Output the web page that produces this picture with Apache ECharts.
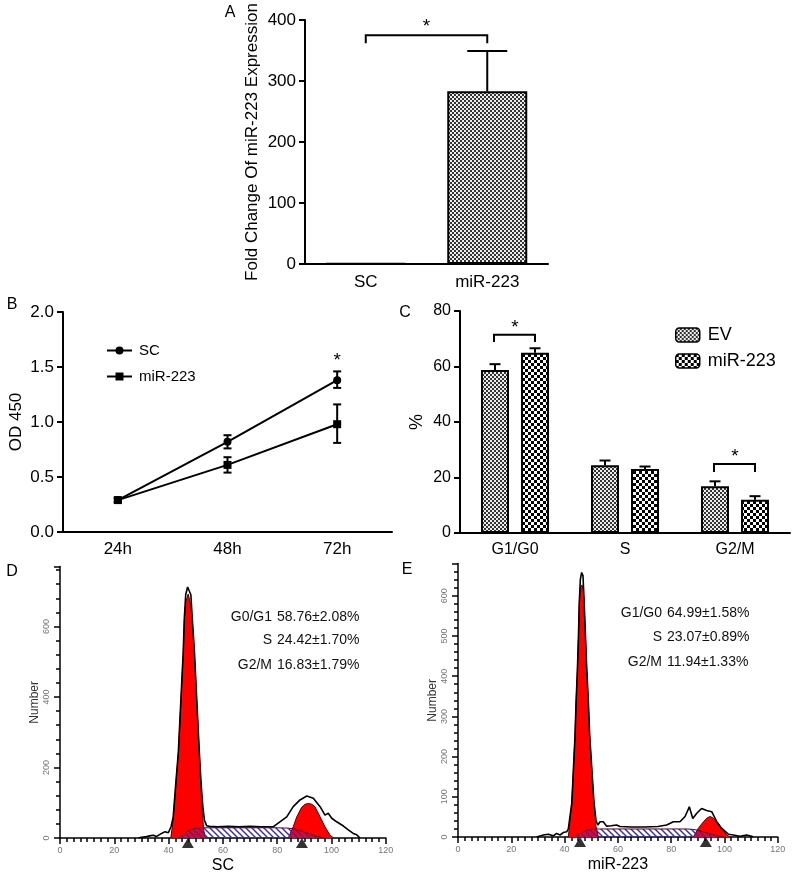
<!DOCTYPE html>
<html><head><meta charset="utf-8">
<script src="https://cdn.jsdelivr.net/npm/echarts@6/dist/echarts.min.js"></script>
<style>html,body{margin:0;padding:0;background:#fff}#c{width:800px;height:875px}</style>
</head><body><div id="c"></div>
<script>
// ---------- DATA ----------
// Panel A
const aCategories = ['SC', 'miR-223'];
const aValues = [1, 283];
const aErrors = [0, 66];
const aBracket = [0, 1, 375, 362, 389]; // fromCat, toCat, top, end, starY
// Panel B
const bCategories = ['24h', '48h', '72h'];
const bSC = [0.29, 0.82, 1.38];
const bSCLow = [0.27, 0.76, 1.31];
const bSCHigh = [0.31, 0.88, 1.46];
const bMiR = [0.29, 0.61, 0.98];
const bMiRLow = [0.27, 0.54, 0.81];
const bMiRHigh = [0.31, 0.68, 1.16];
const bStar = [2, 1.56];
// Panel C
const cCategories = ['G1/G0', 'S', 'G2/M'];
const cEV = [58.76, 24.42, 16.83];
const cEVErr = [2.08, 1.70, 1.79];
const cMiR = [64.99, 23.07, 11.94];
const cMiRErr = [1.58, 0.89, 1.33];
const cBrackets = [[0, 71.4, 68.8, 74], [2, 24.9, 22.0, 27.5]]; // cat, top, end, starY
// Panel D (SC) histogram, [DNA content, Number]
const rawD = [[28.9,0],[30,2],[31.9,4],[33,6],[34.4,8],[35.5,4],[36.2,2],[37.4,13],[38.7,18],[39.9,15],[40.9,32],[41.7,60],[42.6,150],[43.6,245],[44.2,340],[44.8,435],[45.4,530],[45.8,625],[46.3,690],[47.0,712],[47.5,710],[48.2,690],[48.7,625],[49.5,530],[50.1,435],[50.7,340],[51.3,245],[52.0,150],[52.6,90],[53.2,50],[54.0,35],[55,33],[58,32],[62,33],[66,32],[70,33],[74,32],[78.6,32],[81.0,46],[83.5,60],[85.9,89],[88.4,108],[90.9,119],[93.3,113],[95.8,89],[97.6,65],[98.8,70],[100.1,56],[101.9,46],[104.4,34],[106.2,23],[108.0,13],[109.3,9],[110.5,0]];
const g1D = [[40.8,0],[41.7,51],[42.6,146],[43.6,240],[44.2,335],[44.8,429],[45.4,524],[45.8,618],[46.3,668],[47.2,692],[48.0,668],[48.7,618],[49.5,524],[50.1,429],[50.7,335],[51.3,240],[51.9,146],[52.4,70],[53.0,20],[53.6,0]];
const g2D = [[84.1,0],[85.9,32],[87.2,60],[89.0,87],[90.3,96],[91.5,98],[92.7,96],[93.9,89],[95.8,60],[97.6,32],[99.4,9],[100.7,0]];
const sD = [[44,0],[45.5,10],[47,19],[48.5,25],[50,28],[52,29],[55,29],[60,29],[70,29],[80,29],[84,28],[86,26],[88,22],[90,17],[92,11],[94,6],[96,2],[97.5,0]];
const peaksD = [47.1, 89.1];
const textD = [['G0/G1', '58.76±2.08%'], ['S', '24.42±1.70%'], ['G2/M', '16.83±1.79%']];
// Panel E (miR-223) histogram
const rawE = [[29.5,0],[32.0,5],[33.9,7],[35.8,3],[37.0,9],[38.3,5],[39.5,11],[40.8,13],[41.4,20],[42.7,84],[43.3,167],[43.9,250],[44.3,333],[44.8,415],[45.2,498],[45.5,581],[45.9,640],[46.4,658],[46.9,650],[47.3,590],[47.8,505],[48.3,420],[48.9,338],[49.4,255],[50.2,170],[51.0,88],[51.8,40],[52.5,30],[53.3,38],[54.5,38],[55.8,27],[57.5,28],[59.5,30],[60.8,26],[65,25],[70,25],[75,26],[78.3,30],[80.8,38],[83.3,38],[85.2,51],[86.8,75],[88.1,46],[89.6,59],[91.4,71],[93.3,66],[95.2,63],[97.1,38],[98.9,22],[101.4,7],[103.3,5],[105.8,2],[108.3,5],[110.2,2],[110.8,0]];
const g1E = [[41.4,0],[42.7,84],[43.3,167],[43.9,250],[44.3,333],[44.8,415],[45.2,498],[45.5,581],[45.9,620],[46.5,627],[47.0,615],[47.3,581],[47.8,498],[48.3,415],[48.9,333],[49.4,250],[50.2,167],[51.0,84],[51.8,26],[52.7,0]];
const g2E = [[88.3,0],[90.2,22],[92.1,38],[93.4,47],[94.6,51],[95.8,47],[97.1,38],[98.9,22],[100.8,5],[102.1,0]];
const sE = [[44,0],[45.5,7],[47,13],[48.5,17],[50,19],[53,20],[60,20],[70,20],[80,20],[86,20],[88,19],[90,17],[92,13],[94,9],[96,5],[98,2],[100,0]];
const peaksE = [45.8, 93.0];
const textE = [['G1/G0', '64.99±1.58%'], ['S', '23.07±0.89%'], ['G2/M', '11.94±1.33%']];

// ---------- STYLE ----------
const FONT = "'Liberation Sans', Arial, Helvetica, sans-serif";
function checker(cell, c1, c2) {
  const cv = document.createElement('canvas');
  cv.width = cv.height = cell * 2;
  const g = cv.getContext('2d');
  g.fillStyle = c1; g.fillRect(0, 0, cell * 2, cell * 2);
  g.fillStyle = c2; g.fillRect(0, 0, cell, cell); g.fillRect(cell, cell, cell, cell);
  return { image: cv, repeat: 'repeat' };
}
function hatch(size, color) {
  const cv = document.createElement('canvas');
  cv.width = cv.height = size;
  const g = cv.getContext('2d');
  g.strokeStyle = color; g.lineWidth = 1.4;
  g.beginPath();
  g.moveTo(-1, -1); g.lineTo(size + 1, size + 1);
  g.moveTo(-1, size - 1); g.lineTo(1, size + 1);
  g.moveTo(size - 1, -1); g.lineTo(size + 1, 1);
  g.stroke();
  return { image: cv, repeat: 'repeat' };
}
const finePat = checker(2, '#eeeeee', '#333333');
const coarsePat = checker(3, '#ffffff', '#000000');
const hatchPat = hatch(6, '#2a2ad0');

function catAxis(grid, cats, fs, margin) {
  return { type: 'category', gridIndex: grid, data: cats,
    axisLine: { lineStyle: { color: '#000', width: 2 } },
    axisTick: { alignWithLabel: true, length: 6, lineStyle: { color: '#000', width: 2 } },
    axisLabel: { color: '#000', fontSize: fs, fontFamily: FONT, margin: margin },
    splitLine: { show: false } };
}
function valAxis(grid, max, interval, fs, dec, name, gap, nfs) {
  return { type: 'value', gridIndex: grid, min: 0, max: max, interval: interval,
    axisLine: { show: true, lineStyle: { color: '#000', width: 2 } },
    axisTick: { show: true, length: 6, lineStyle: { color: '#000', width: 2 } },
    axisLabel: { color: '#000', fontSize: fs, fontFamily: FONT, margin: 9,
      formatter: v => v.toFixed(dec) },
    splitLine: { show: false },
    name: name, nameLocation: 'middle', nameGap: gap,
    nameTextStyle: { color: '#000', fontSize: nfs, fontFamily: FONT } };
}
function histX(grid, name) {
  return { type: 'value', gridIndex: grid, min: 0, max: 120, interval: 20,
    axisLine: { lineStyle: { color: '#000', width: 1.5 } },
    axisTick: { length: 6, lineStyle: { color: '#000', width: 1.5 } },
    minorTick: { show: true, splitNumber: 8, length: 4, lineStyle: { color: '#000', width: 1.5 } },
    axisLabel: { color: '#777', fontSize: 9, fontFamily: FONT, margin: 8 },
    splitLine: { show: false }, minorSplitLine: { show: false },
    name: name, nameLocation: 'middle', nameGap: 20,
    nameTextStyle: { color: '#000', fontSize: 16, fontFamily: FONT } };
}
function histY(grid, max, interval) {
  return { type: 'value', gridIndex: grid, min: 0, max: max, interval: interval,
    axisLine: { show: true, lineStyle: { color: '#000', width: 1.5 } },
    axisTick: { show: true, length: 6, lineStyle: { color: '#000', width: 1.5 } },
    minorTick: { show: true, splitNumber: 5, length: 4, lineStyle: { color: '#000', width: 1.5 } },
    axisLabel: { color: '#777', fontSize: 9, fontFamily: FONT, margin: 9, rotate: 90, showMaxLabel: false },
    splitLine: { show: false }, minorSplitLine: { show: false },
    name: 'Number', nameLocation: 'middle', nameGap: 18,
    nameTextStyle: { color: '#333', fontSize: 12, fontFamily: FONT } };
}

function errBarSeries(name, ax, data, offset, half, both) {
  return { name: name, type: 'custom', xAxisIndex: ax, yAxisIndex: ax, data: data, z: 5,
    renderItem: (p, api) => {
      const c = api.value(0);
      const lo = api.coord([c, api.value(1)]);
      const hi = api.coord([c, api.value(2)]);
      const x = lo[0] + offset;
      const st = { stroke: '#000', lineWidth: 2 };
      const ch = [
        { type: 'line', shape: { x1: x, y1: lo[1], x2: x, y2: hi[1] }, style: st },
        { type: 'line', shape: { x1: x - half, y1: hi[1], x2: x + half, y2: hi[1] }, style: st }
      ];
      if (both) ch.push({ type: 'line', shape: { x1: x - half, y1: lo[1], x2: x + half, y2: lo[1] }, style: st });
      return { type: 'group', children: ch };
    } };
}
function starText(x, y) {
  return { type: 'text', x: x, y: y, style: { text: '*', fill: '#000', font: '19px ' + FONT, align: 'center', verticalAlign: 'middle' } };
}

const graphic = [];
[['A', 230, 13], ['B', 12, 305], ['C', 405, 313], ['D', 12, 572], ['E', 407, 570]].forEach(t => {
  graphic.push({ type: 'text', x: t[1], y: t[2], style: { text: t[0], fill: '#000', font: '16px ' + FONT, align: 'center', verticalAlign: 'middle' } });
});
function addStats(rows, labX, valX, ys) {
  rows.forEach((r, i) => {
    graphic.push({ type: 'text', x: labX, y: ys[i], style: { text: r[0], fill: '#111', font: '14px ' + FONT, align: 'right', verticalAlign: 'middle' } });
    graphic.push({ type: 'text', x: valX, y: ys[i], style: { text: r[1], fill: '#111', font: '14px ' + FONT, align: 'left', verticalAlign: 'middle' } });
  });
}
addStats(textD, 272, 277, [617, 640, 665]);
addStats(textE, 662, 667, [613, 637, 662]);

function histSeries(ax, raw, g1, g2, s, peaks) {
  const red = { color: '#ff0000', opacity: 1 };
  return [
    { type: 'line', xAxisIndex: ax, yAxisIndex: ax, data: g1, symbol: 'none', z: 2,
      lineStyle: { color: '#5a0000', width: 1 }, areaStyle: red },
    { type: 'line', xAxisIndex: ax, yAxisIndex: ax, data: g2, symbol: 'none', z: 2,
      lineStyle: { color: '#5a0000', width: 1 }, areaStyle: red },
    { type: 'line', xAxisIndex: ax, yAxisIndex: ax, data: s, symbol: 'none', z: 3,
      lineStyle: { color: '#5a0020', width: 1 }, areaStyle: { color: hatchPat, opacity: 1 } },
    { type: 'line', xAxisIndex: ax, yAxisIndex: ax, data: raw, symbol: 'none', z: 4,
      lineStyle: { color: '#000', width: 1.6 } },
    { type: 'scatter', xAxisIndex: ax, yAxisIndex: ax, data: peaks.map(p => [p, 0]), clip: false, z: 6,
      symbol: 'triangle', symbolSize: [12, 10], symbolOffset: [0, 5], itemStyle: { color: '#000' } }
  ];
}

const option = {
  animation: false,
  backgroundColor: '#fff',
  textStyle: { fontFamily: FONT },
  grid: [
    { left: 305, top: 20, width: 243, height: 244 },
    { left: 63, top: 312, width: 329, height: 220 },
    { left: 460, top: 311, width: 330, height: 222 },
    { left: 60, top: 566.6, width: 325.8, height: 271.4 },
    { left: 458, top: 563.6, width: 319.8, height: 273.4 }
  ],
  xAxis: [
    catAxis(0, aCategories, 17, 10),
    catAxis(1, bCategories, 17, 9),
    catAxis(2, cCategories, 16, 9),
    histX(3, 'SC'),
    histX(4, 'miR-223')
  ],
  yAxis: [
    valAxis(0, 400, 100, 17, 0, 'Fold Change Of miR-223 Expression', 44, 17),
    valAxis(1, 2, 0.5, 17, 1, 'OD 450', 38, 17),
    valAxis(2, 80, 20, 16, 0, '%', 34, 18),
    histY(3, 770, 200),
    histY(4, 680, 100)
  ],
  legend: [
    { left: 101, top: 338, orient: 'vertical', itemWidth: 25, itemHeight: 10, itemGap: 11,
      data: ['SC', 'miR-223'], textStyle: { fontSize: 15, color: '#000', fontFamily: FONT, padding: [0, 0, 0, 2] } },
    { left: 670, top: 321, orient: 'vertical', itemWidth: 24, itemHeight: 14, itemGap: 8,
      data: ['EV', 'miR-223 (C)'], formatter: n => n.replace(' (C)', ''),
      itemStyle: { borderColor: '#000', borderWidth: 1.5 },
      textStyle: { fontSize: 18, color: '#000', fontFamily: FONT, padding: [0, 0, 0, 3] } }
  ],
  graphic: graphic,
  series: [
    // A
    { name: 'A bars', type: 'bar', xAxisIndex: 0, yAxisIndex: 0, data: aValues, barWidth: 80,
      itemStyle: { color: finePat, borderColor: '#000', borderWidth: 2 } },
    errBarSeries('A err', 0, aCategories.map((c, i) => [i, aValues[i], aValues[i] + aErrors[i]]).filter(d => d[2] > d[1]), 0, 20, false),
    { name: 'A sig', type: 'custom', xAxisIndex: 0, yAxisIndex: 0, data: [aBracket], z: 5,
      renderItem: (p, api) => {
        const a = api.coord([api.value(0), api.value(2)]);
        const b = api.coord([api.value(1), api.value(2)]);
        const e = api.coord([api.value(0), api.value(3)]);
        const s = api.coord([api.value(0), api.value(4)]);
        return { type: 'group', children: [
          { type: 'polyline', shape: { points: [[a[0], e[1]], [a[0], a[1]], [b[0], b[1]], [b[0], e[1]]] }, style: { stroke: '#000', lineWidth: 2, fill: null } },
          starText((a[0] + b[0]) / 2, s[1])
        ] };
      } },
    // B
    { name: 'SC', type: 'line', xAxisIndex: 1, yAxisIndex: 1, data: bSC, symbol: 'circle', symbolSize: 8,
      lineStyle: { color: '#000', width: 2 }, itemStyle: { color: '#000' }, z: 4 },
    { name: 'miR-223', type: 'line', xAxisIndex: 1, yAxisIndex: 1, data: bMiR, symbol: 'rect', symbolSize: 8,
      lineStyle: { color: '#000', width: 2 }, itemStyle: { color: '#000' }, z: 4 },
    errBarSeries('B err SC', 1, bCategories.map((c, i) => [i, bSCLow[i], bSCHigh[i]]), 0, 4, true),
    errBarSeries('B err miR', 1, bCategories.map((c, i) => [i, bMiRLow[i], bMiRHigh[i]]), 0, 4, true),
    { name: 'B sig', type: 'custom', xAxisIndex: 1, yAxisIndex: 1, data: [bStar], z: 5,
      renderItem: (p, api) => {
        const s = api.coord([api.value(0), api.value(1)]);
        return starText(s[0], s[1]);
      } },
    // C
    { name: 'EV', type: 'bar', xAxisIndex: 2, yAxisIndex: 2, data: cEV, barWidth: 28, barGap: '43%',
      itemStyle: { color: finePat, borderColor: '#000', borderWidth: 2 } },
    { name: 'miR-223 (C)', type: 'bar', xAxisIndex: 2, yAxisIndex: 2, data: cMiR, barWidth: 28, barGap: '43%',
      itemStyle: { color: coarsePat, borderColor: '#000', borderWidth: 2 } },
    errBarSeries('C err EV', 2, cCategories.map((c, i) => [i, cEV[i], cEV[i] + cEVErr[i]]), -20, 5.5, false),
    errBarSeries('C err miR', 2, cCategories.map((c, i) => [i, cMiR[i], cMiR[i] + cMiRErr[i]]), 20, 5.5, false),
    { name: 'C sig', type: 'custom', xAxisIndex: 2, yAxisIndex: 2, data: cBrackets, z: 5,
      renderItem: (p, api) => {
        const t = api.coord([api.value(0), api.value(1)]);
        const e = api.coord([api.value(0), api.value(2)]);
        const s = api.coord([api.value(0), api.value(3)]);
        const x1 = t[0] - 21, x2 = t[0] + 20;
        return { type: 'group', children: [
          { type: 'polyline', shape: { points: [[x1, e[1]], [x1, t[1]], [x2, t[1]], [x2, e[1]]] }, style: { stroke: '#000', lineWidth: 2, fill: null } },
          starText(t[0], s[1])
        ] };
      } },
    // D, E
    ...histSeries(3, rawD, g1D, g2D, sD, peaksD),
    ...histSeries(4, rawE, g1E, g2E, sE, peaksE)
  ]
};
const chart = echarts.init(document.getElementById('c'), null, { renderer: 'canvas' });
chart.setOption(option);
</script>
</body></html>
